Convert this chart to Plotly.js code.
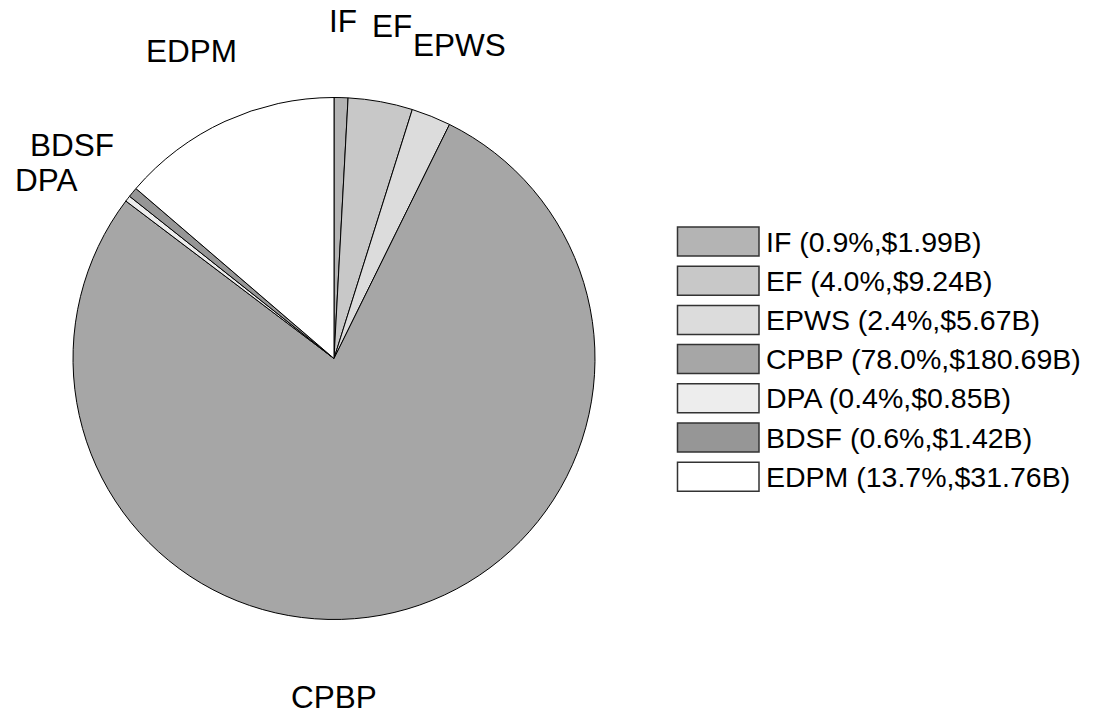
<!DOCTYPE html>
<html>
<head>
<meta charset="utf-8">
<script src="https://cdn.plot.ly/plotly-3.0.1.min.js"></script>
<style>html,body{margin:0;padding:0;background:#fff;}#chart{width:1096px;height:715px;}</style>
</head>
<body>
<div id="chart"></div>
<script>
var categories = ["IF", "EF", "EPWS", "CPBP", "DPA", "BDSF", "EDPM"];
var valuesB = [1.99, 9.24, 5.67, 180.69, 0.85, 1.42, 31.76];
var sliceColors = ["#b4b4b4", "#c8c8c8", "#dcdcdc", "#a6a6a6", "#ededed", "#969696", "#ffffff"];

var W = 1096, H = 715;
var cx = 334, cy = 358.5, r = 261;
var FONT = "Liberation Sans, Arial, Helvetica, sans-serif";
var LABEL_SIZE = 31.5, LEGEND_SIZE = 28.5;

// label placement tweaks (pixels) to avoid overlap / match the original layout
var labelNudge = {CPBP: [-75, 32], BDSF: [-10, 5], DPA: [-30, 32], EDPM: [-6, 0], EPWS: [4, 0]};

var total = valuesB.reduce(function(a, b){ return a + b; }, 0);

var annotations = [];
var shapes = [];

// slice labels outside the pie, text baseline centred at 1.25 r along the mid-angle
var cum = 0;
for (var i = 0; i < categories.length; i++) {
  var frac = valuesB[i] / total;
  var mid = (cum + frac / 2) * 2 * Math.PI;
  cum += frac;
  var R = 1.25 * r;
  var nd = labelNudge[categories[i]] || [0, 0];
  var px = cx + R * Math.sin(mid) + nd[0];
  var baseline = cy - R * Math.cos(mid) + nd[1];
  var py = baseline - 0.35 * LABEL_SIZE;
  annotations.push({
    xref: "paper", yref: "paper",
    x: px / W, y: 1 - py / H,
    xanchor: "center", yanchor: "middle",
    text: categories[i], showarrow: false,
    font: {family: FONT, size: LABEL_SIZE, color: "#000"}
  });
}

// custom legend with large swatches
var bx0 = 677.5, bx1 = 759, top0 = 227, step = 39.2, bh = 29;
for (var j = 0; j < categories.length; j++) {
  var t = top0 + j * step;
  shapes.push({
    type: "rect", xref: "paper", yref: "paper",
    x0: bx0 / W, x1: bx1 / W, y0: 1 - t / H, y1: 1 - (t + bh) / H,
    fillcolor: sliceColors[j], line: {color: "#333", width: 1.5}
  });
  var pct = (valuesB[j] / total * 100).toFixed(1);
  annotations.push({
    xref: "paper", yref: "paper",
    x: 764 / W, y: 1 - (t + bh / 2) / H,
    xanchor: "left", yanchor: "middle",
    text: categories[j] + " (" + pct + "%,$" + valuesB[j].toFixed(2) + "B)",
    showarrow: false,
    font: {family: FONT, size: LEGEND_SIZE, color: "#000"}
  });
}

var trace = {
  type: "pie",
  labels: categories,
  values: valuesB,
  sort: false,
  direction: "clockwise",
  rotation: 0,
  textinfo: "none",
  hoverinfo: "label+value+percent",
  marker: {colors: sliceColors, line: {color: "#000", width: 1}},
  domain: {x: [(cx - r) / W, (cx + r) / W], y: [1 - (cy + r) / H, 1 - (cy - r) / H]},
  showlegend: false
};

var layout = {
  width: W, height: H,
  margin: {l: 0, r: 0, t: 0, b: 0},
  paper_bgcolor: "#fff",
  showlegend: false,
  annotations: annotations,
  shapes: shapes,
  font: {family: FONT}
};

Plotly.newPlot("chart", [trace], layout, {displayModeBar: false, staticPlot: true});
</script>
</body>
</html>
